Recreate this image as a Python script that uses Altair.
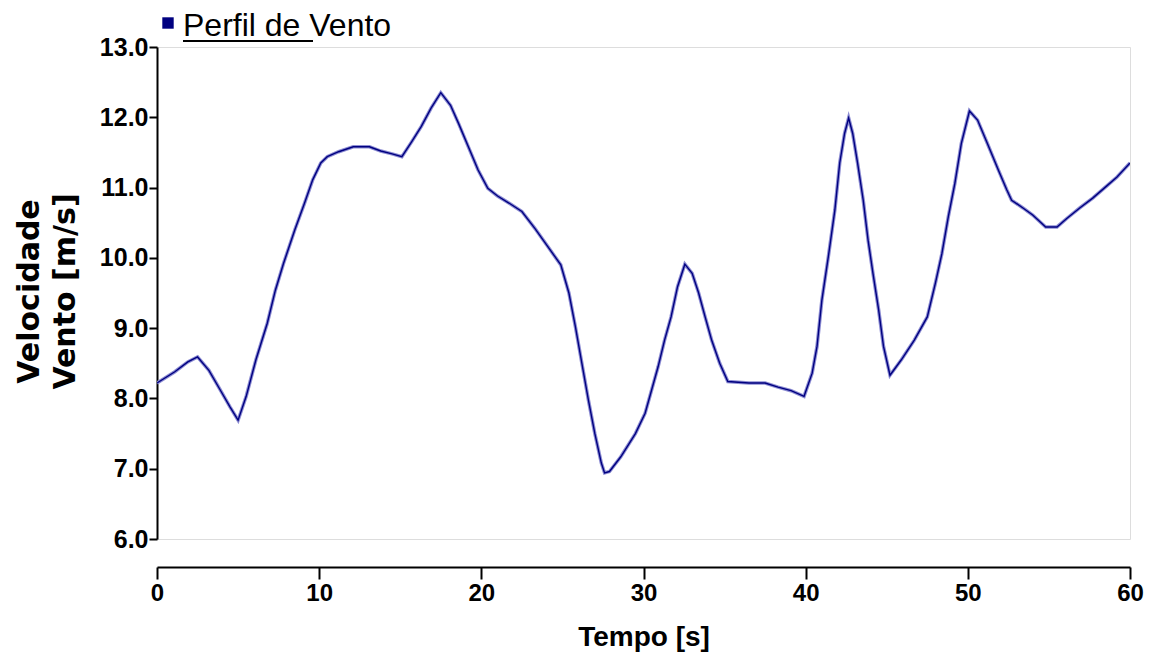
import altair as alt
import pandas as pd

# Wind speed profile (time [s], speed [m/s])
tempo = [0, 1.1, 1.9, 2.5, 3.2, 3.9, 4.5, 5.0, 5.5, 6.1, 6.8, 7.3, 7.8, 8.5, 9.1, 9.6,
         10.1, 10.5, 11.2, 12.1, 13.1, 13.8, 14.5, 15.1, 15.7, 16.3, 16.9, 17.5, 18.1,
         18.6, 19.2, 19.8, 20.4, 21.0, 21.7, 22.5, 23.3, 24.1, 24.9, 25.4, 25.8, 26.2,
         26.6, 27.0, 27.4, 27.6, 27.9, 28.6, 29.5, 30.1, 30.5, 30.9, 31.3, 31.7, 32.1,
         32.55, 33.0, 33.4, 33.8, 34.2, 34.7, 35.2, 36.5, 37.5, 38.3, 39.1, 39.9, 40.4,
         40.7, 41.0, 41.4, 41.8, 42.1, 42.4, 42.65, 42.9, 43.2, 43.55, 43.85, 44.15,
         44.5, 44.8, 45.2, 45.9, 46.7, 47.5, 48.0, 48.4, 48.8, 49.2, 49.6, 50.1, 50.6,
         51.2, 51.9, 52.4, 52.7, 53.4, 54.0, 54.8, 55.5, 56.1, 56.9, 57.7, 58.5, 59.2, 60.0]
velocidade = [8.22, 8.38, 8.52, 8.59, 8.40, 8.12, 7.88, 7.69, 8.03, 8.55, 9.07, 9.54, 9.92,
              10.40, 10.78, 11.11, 11.35, 11.44, 11.51, 11.58, 11.58, 11.52, 11.48, 11.44,
              11.65, 11.87, 12.13, 12.35, 12.17, 11.91, 11.58, 11.25, 10.99, 10.88, 10.78,
              10.66, 10.42, 10.16, 9.90, 9.50, 9.02, 8.50, 7.98, 7.50, 7.08, 6.94, 6.96,
              7.17, 7.50, 7.79, 8.12, 8.45, 8.83, 9.16, 9.59, 9.91, 9.78, 9.50, 9.16, 8.83,
              8.50, 8.24, 8.22, 8.22, 8.16, 8.11, 8.03, 8.36, 8.74, 9.40, 10.02, 10.68,
              11.35, 11.77, 11.99, 11.77, 11.35, 10.82, 10.25, 9.78, 9.26, 8.74, 8.33,
              8.55, 8.83, 9.16, 9.64, 10.06, 10.59, 11.06, 11.63, 12.09, 11.96, 11.63,
              11.24, 10.97, 10.82, 10.71, 10.61, 10.44, 10.44, 10.56, 10.71, 10.85, 11.01,
              11.15, 11.35]

x_ticks = [0, 10, 20, 30, 40, 50, 60]
y_ticks = [6, 7, 8, 9, 10, 11, 12, 13]
legend_label = "Perfil de Vento"
x_title = "Tempo [s]"
y_title = ["Velocidade", "Vento [m/s]"]

df = pd.DataFrame({"t": tempo, "v": velocidade})

x_enc = alt.X(
    "t:Q",
    scale=alt.Scale(domain=[0, 60], nice=False, zero=False),
    axis=alt.Axis(
        values=x_ticks, title=x_title, offset=28, grid=False,
        domainColor="black", domainWidth=2, tickColor="black", tickWidth=2,
        tickSize=12, labelPadding=2, labelFlush=False,
        labelFont="Liberation Sans", labelFontSize=24, labelFontWeight="bold",
        labelColor="black", titleFont="Liberation Sans", titleFontSize=28,
        titleFontWeight="bold", titleColor="black", titlePadding=18,
    ),
)
y_enc = alt.Y(
    "v:Q",
    scale=alt.Scale(domain=[6, 13], nice=False, zero=False),
    axis=alt.Axis(
        values=y_ticks, format=".1f", title=y_title, grid=False,
        domainColor="black", domainWidth=2, tickColor="black", tickWidth=2,
        tickSize=8, labelPadding=1,
        labelFont="Liberation Sans", labelFontSize=25, labelFontWeight="bold",
        labelColor="black", titleFont="DejaVu Sans", titleFontSize=30,
        titleFontWeight="bold", titleColor="black", titleAngle=270,
        titleAlign="center", titleBaseline="middle", titleLineHeight=36,
        titleX=-128, titleY=244,
    ),
)

base = alt.Chart(df)
halo = base.mark_line(color="#8c8cd2", strokeWidth=3.5, clip=True).encode(x=x_enc, y=y_enc)
line = base.mark_line(color="#000080", strokeWidth=1.4, clip=True).encode(x="t:Q", y="v:Q")

lab = pd.DataFrame({"label": [legend_label]})
legend_sym = alt.Chart(lab).mark_square(color="#000080", size=130, opacity=1).encode(
    x=alt.value(11), y=alt.value(-24)
)
legend_txt = alt.Chart(lab).mark_text(
    align="left", baseline="alphabetic", font="Liberation Sans", fontSize=32, color="black"
).encode(text="label:N", x=alt.value(26), y=alt.value(-11))
legend_ul = alt.Chart(lab).mark_rule(color="black", strokeWidth=2).encode(
    x=alt.value(26), x2=alt.value(156), y=alt.value(-6)
)

chart = alt.layer(halo, line, legend_sym, legend_txt, legend_ul).properties(
    width=973, height=492,
    autosize=alt.AutoSizeParams(type="none"),
    padding={"left": 149, "top": 39, "right": 16, "bottom": 117},
).configure_view(stroke="#999999", strokeWidth=2).configure(background="white")

chart.save("out.html", embed_options={"renderer": "svg", "actions": False})
